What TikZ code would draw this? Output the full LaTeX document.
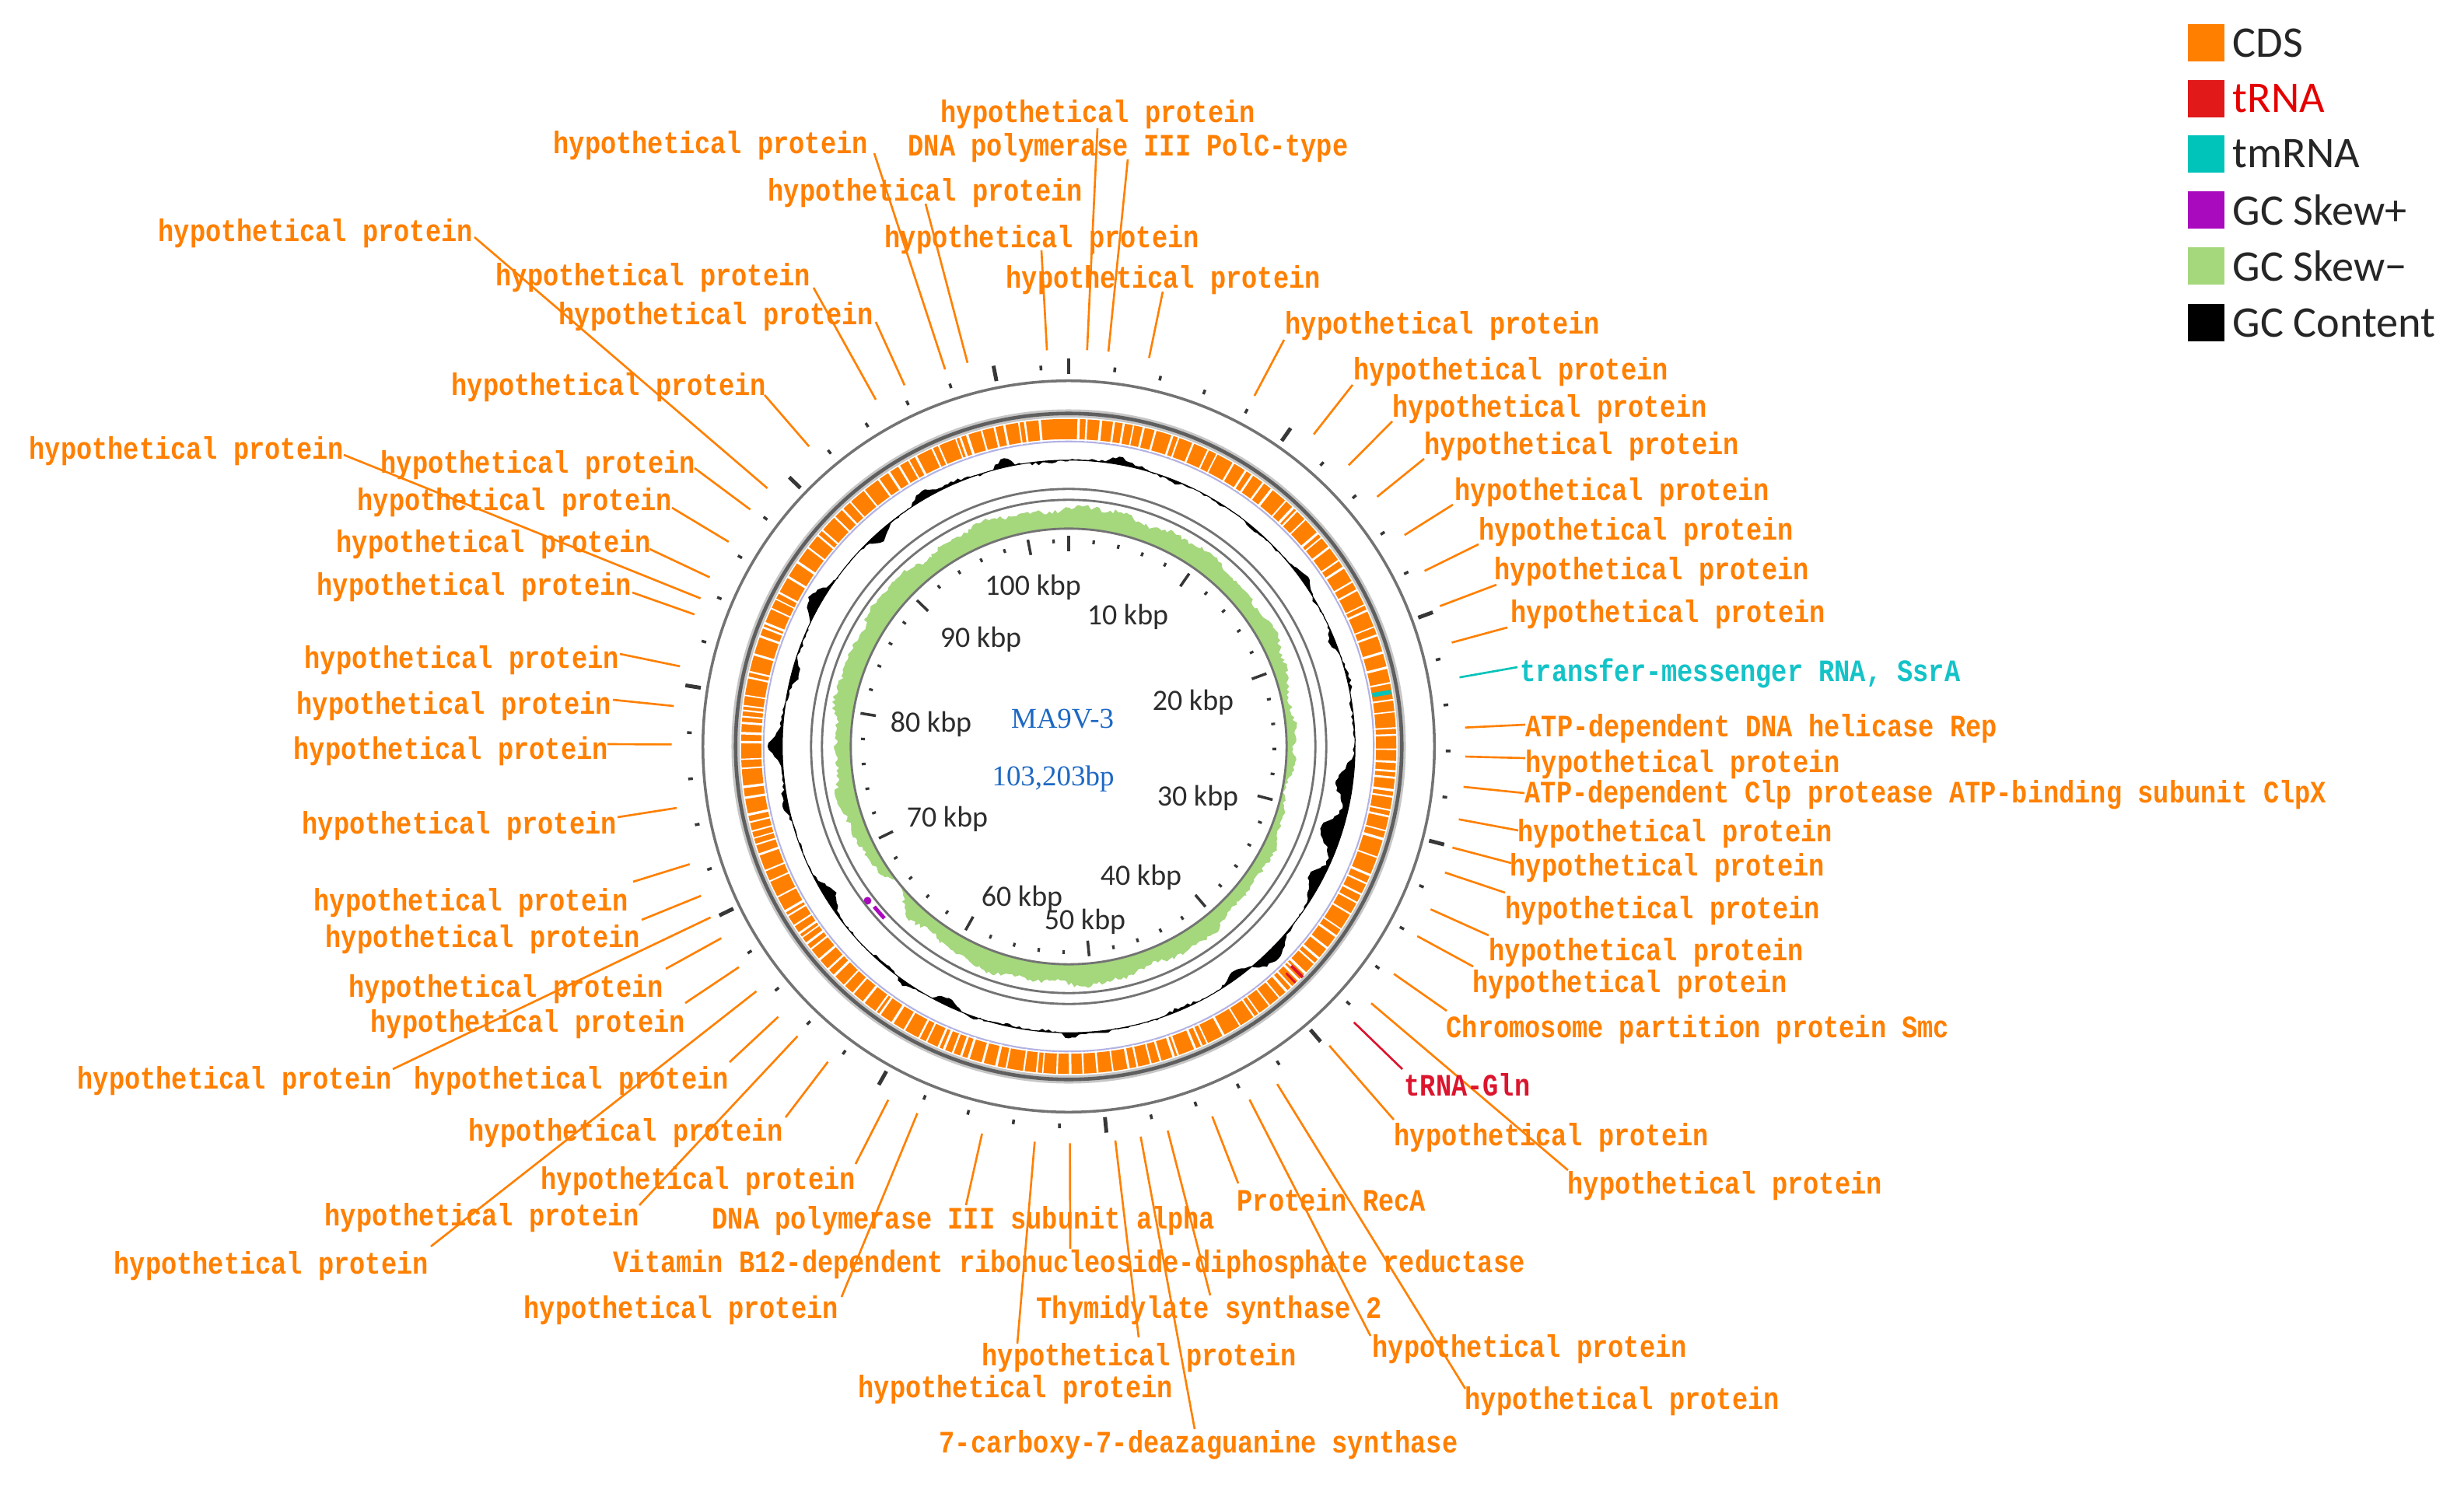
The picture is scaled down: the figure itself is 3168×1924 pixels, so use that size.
\documentclass[tikz,border=0pt]{standalone}
\usepackage{fontspec}
\usetikzlibrary{calc}
\newfontfamily\lblf{Liberation Mono}
\newfontfamily\legf{Carlito}
\newfontfamily\serf{Liberation Serif}
\definecolor{corange}{RGB}{255,128,0}
\definecolor{cred}{RGB}{220,20,45}
\definecolor{clegred}{RGB}{225,25,25}
\definecolor{ctm}{RGB}{0,195,185}
\definecolor{ctmtxt}{RGB}{20,195,200}
\definecolor{cpurple}{RGB}{170,10,190}
\definecolor{cgreen}{RGB}{165,215,125}
\definecolor{cblue}{RGB}{30,105,195}
\definecolor{cring}{RGB}{115,115,115}
\definecolor{cringd}{RGB}{95,95,95}
\definecolor{ctick}{RGB}{55,55,55}
\definecolor{ckbp}{RGB}{45,45,45}

\pgfmathdeclarefunction{bmp}{4}{%
  \begingroup
  \pgfmathparse{min(abs(#1-(#2))/(#4),4)}%
  \let\bmpu\pgfmathresult
  \pgfmathparse{(#3)*exp(-\bmpu*\bmpu)}%
  \pgfmathsmuggle\pgfmathresult
  \endgroup}
\pgfmathdeclarefunction{gcdev}{1}{%
  \begingroup
  \pgfmathsetmacro\gx{#1}%
  \pgfmathparse{2.2*(2*rnd-1)+2*sin(11*\gx)+1.5*sin(29*\gx+30)+bmp(\gx,347,12,2)+bmp(\gx,10,9,2.5)+bmp(\gx,40,-7,3)+bmp(\gx,55,10,3)+bmp(\gx,68,-8,2)+bmp(\gx,98,-20,4)+bmp(\gx,108,-28,4)+bmp(\gx,118,-15,3)+bmp(\gx,135,15,4)+bmp(\gx,143,-10,3)+bmp(\gx,180,8,2)+bmp(\gx,205,-10,3)+bmp(\gx,215,6,2)+bmp(\gx,238,-18,3)+bmp(\gx,258,10,3)+bmp(\gx,270,18,2.5)+bmp(\gx,285,-8,2)+bmp(\gx,300,14,3)+bmp(\gx,318,-8,2)+bmp(\gx,330,10,2.5)}%
  \pgfmathsmuggle\pgfmathresult
  \endgroup}
\pgfmathdeclarefunction{skw}{1}{%
  \begingroup
  \pgfmathsetmacro\gx{#1}%
  \pgfmathparse{max(0.5,20+5*cos(\gx)+3*(2*rnd-1)+3*sin(13*\gx)+2*sin(31*\gx+20)+bmp(\gx,180,10,40)+bmp(\gx,95,-13,28)+bmp(\gx,231,-22,5)+bmp(\gx,300,5,15))}%
  \pgfmathsmuggle\pgfmathresult
  \endgroup}

\tikzset{
  lbl/.style={font=\lblf\bfseries\fontsize{11.4}{12}\selectfont, text=corange, anchor=west, inner sep=0pt, xscale=0.84},
  lblr/.style={lbl, text=cred},
  lblc/.style={lbl, text=ctmtxt},
  ld/.style={draw=corange, line width=0.75pt},
  ldr/.style={draw=cred, line width=0.75pt},
  ldc/.style={draw=ctm, line width=0.75pt},
  tk/.style={draw=ctick},
  kbp/.style={font=\legf\fontsize{10.8}{12}\selectfont, text=ckbp, inner sep=0pt},
  sq/.style={minimum size=0.47cm, inner sep=0pt, draw=none},
  legt/.style={font=\legf\fontsize{16}{18}\selectfont, text=black!85, anchor=west, inner sep=0pt},
  ctr/.style={font=\serf\fontsize{10.5}{12}\selectfont, text=cblue, inner sep=0pt}
}
\newcommand\glab[6]{%
  \node[#4] (t#1) at (#2) {#6};
  \coordinate (e#1) at (#3);
  \coordinate (s#1) at ($(C)!5.1cm!(e#1)$);
  \draw[#5] (s#1) -- (e#1);}

\begin{document}
\begin{tikzpicture}[x=0.01cm, y=-0.01cm]
\useasboundingbox (0,0) rectangle (3168,1924);
\fill[white] (0,0) rectangle (3168,1924);
\coordinate (C) at (1374,960);
\pgfmathsetseed{4321}

\begin{scope}[shift={(C)}]
  % GC skew (green)
  \fill[cgreen, even odd rule] plot[domain=0:360, samples=541, variable=\a] ({\a-90}:{281+skw(\a)}) -- cycle (0,0) circle[radius=2.81cm];
  % GC skew+ (purple)
  \draw[cpurple, line width=1.4pt] plot[domain=227:230.5, samples=6, variable=\a] ({\a-90}:{324});
  \fill[cpurple] ({232.5-90}:326) circle[radius=0.05cm];
  % tick circle and track circles
  \draw[cring, line width=0.8pt] (0,0) circle[radius=2.80cm];
  \draw[cring, line width=0.8pt] (0,0) circle[radius=3.17cm];
  \draw[cring, line width=0.8pt] (0,0) circle[radius=3.31cm];
  % GC content
  \fill[black, even odd rule] plot[domain=0:360, samples=541, variable=\a] ({\a-90}:{368+gcdev(\a)}) -- cycle (0,0) circle[radius=3.68cm];
  \draw[black, line width=0.3pt] (0,0) circle[radius=3.68cm];
  % CDS track
  \draw[black!35!blue!30!white, line width=0.6pt] (0,0) circle[radius=3.92cm];
  \fill[corange, even odd rule] (0,0) circle[radius=4.21cm] (0,0) circle[radius=3.95cm];
  \gdef\cang{0}
  \foreach \i in {1,...,170}{
    \pgfmathsetmacro\nang{\cang+0.8+2.6*rnd}
    \xdef\cang{\nang}
    \pgfmathsetmacro\gw{0.45+0.5*rnd}
    \draw[white, line width=\gw pt] ({\nang-90}:393) -- ({\nang-90}:423);
  }
  % tmRNA and tRNA marks
  \draw[ctm, line width=1.6pt] ({80.4-90}:396) -- ({80.4-90}:420);
  \draw[cred, line width=1.1pt] ({134.6-90}:402) -- ({134.6-90}:423);
  \draw[cred, line width=0.8pt] ({136.2-90}:404) -- ({136.2-90}:421);
  % backbone ring and outer circle
  \draw[gray!45, line width=3pt] (0,0) circle[radius=4.28cm];
  \draw[cringd, line width=1.3pt] (0,0) circle[radius=4.28cm];
  \draw[cring, line width=1pt] (0,0) circle[radius=4.70cm];
  % ticks
  \foreach \k in {0,2,...,102}{
    \pgfmathsetmacro\ang{\k*3.488271-90}
    \pgfmathtruncatemacro\ismaj{mod(\k,10)==0 ? 1 : 0}
    \ifnum\ismaj=1
      \draw[tk, line width=1.4pt] (\ang:479) -- (\ang:499);
      \draw[tk, line width=1pt] (\ang:251) -- (\ang:271);
    \else
      \draw[tk, line width=1pt] (\ang:485) -- (\ang:491);
      \draw[tk, line width=0.9pt] (\ang:262) -- (\ang:267);
    \fi
  }
\end{scope}

% kbp labels
\node[kbp] (k100) at (1328,755) {100 kbp};
\node[kbp] (k10) at (1450,793) {10 kbp};
\node[kbp] (k90) at (1261,822) {90 kbp};
\node[kbp] (k20) at (1534,903) {20 kbp};
\node[kbp] (k80) at (1197,931) {80 kbp};
\node[kbp] (k30) at (1540,1026) {30 kbp};
\node[kbp] (k70) at (1218,1053) {70 kbp};
\node[kbp] (k40) at (1467,1128) {40 kbp};
\node[kbp] (k60) at (1314,1155) {60 kbp};
\node[kbp] (k50) at (1395,1185) {50 kbp};

% centre
\node[ctr] (name) at (1366,925) {MA9V-3};
\node[ctr] (len) at (1354,1002) {103,203bp};

% feature labels
\glab{1}{1209,147}{1411,165}{lbl}{ld}{hypothetical protein}
\glab{2}{1167,190}{1450,205}{lbl}{ld}{DNA polymerase III PolC-type}
\glab{3}{711,187}{1124,197}{lbl}{ld}{hypothetical protein}
\glab{4}{987,248}{1190,262}{lbl}{ld}{hypothetical protein}
\glab{5}{1137,308}{1339,322}{lbl}{ld}{hypothetical protein}
\glab{6}{1293,360}{1495,375}{lbl}{ld}{hypothetical protein}
\glab{7}{637,357}{1046,370}{lbl}{ld}{hypothetical protein}
\glab{8}{718,407}{1126,414}{lbl}{ld}{hypothetical protein}
\glab{9}{203,300}{610,305}{lbl}{ld}{hypothetical protein}
\glab{10}{580,498}{983,508}{lbl}{ld}{hypothetical protein}
\glab{11}{37,580}{442,585}{lbl}{ld}{hypothetical protein}
\glab{12}{489,598}{893,602}{lbl}{ld}{hypothetical protein}
\glab{13}{459,646}{864,653}{lbl}{ld}{hypothetical protein}
\glab{14}{432,700}{835,706}{lbl}{ld}{hypothetical protein}
\glab{15}{407,755}{813,762}{lbl}{ld}{hypothetical protein}
\glab{16}{391,849}{797,841}{lbl}{ld}{hypothetical protein}
\glab{17}{381,908}{788,900}{lbl}{ld}{hypothetical protein}
\glab{18}{377,966}{781,957}{lbl}{ld}{hypothetical protein}
\glab{19}{388,1062}{794,1051}{lbl}{ld}{hypothetical protein}
\glab{20}{403,1161}{814,1134}{lbl}{ld}{hypothetical protein}
\glab{21}{418,1208}{825,1183}{lbl}{ld}{hypothetical protein}
\glab{22}{448,1272}{856,1246}{lbl}{ld}{hypothetical protein}
\glab{23}{476,1317}{881,1290}{lbl}{ld}{hypothetical protein}
\glab{24}{99,1390}{505,1375}{lbl}{ld}{hypothetical protein}
\glab{25}{532,1390}{938,1366}{lbl}{ld}{hypothetical protein}
\glab{26}{602,1457}{1010,1437}{lbl}{ld}{hypothetical protein}
\glab{27}{695,1519}{1100,1497}{lbl}{ld}{hypothetical protein}
\glab{28}{417,1566}{822,1550}{lbl}{ld}{hypothetical protein}
\glab{29}{146,1628}{554,1603}{lbl}{ld}{hypothetical protein}
\glab{30}{915,1570}{1242,1550}{lbl}{ld}{DNA polymerase III subunit alpha}
\glab{31}{788,1626}{1376,1606}{lbl}{ld}{Vitamin B12-dependent ribonucleoside-diphosphate reductase}
\glab{32}{673,1685}{1082,1668}{lbl}{ld}{hypothetical protein}
\glab{33}{1332,1685}{1556,1666}{lbl}{ld}{Thymidylate synthase 2}
\glab{34}{1262,1746}{1464,1720}{lbl}{ld}{hypothetical protein}
\coordinate (e34b) at (1308,1728);
\coordinate (s34b) at ($(C)!5.1cm!(e34b)$);
\draw[ld] (s34b) -- (e34b);
\node[lbl] (t35) at (1103,1787) {hypothetical protein};
\glab{36}{1207,1858}{1536,1838}{lbl}{ld}{7-carboxy-7-deazaguanine synthase}
\glab{37}{1590,1543}{1592,1522}{lbl}{ld}{Protein RecA}
\glab{38}{1764,1735}{1762,1718}{lbl}{ld}{hypothetical protein}
\glab{39}{1883,1802}{1884,1786}{lbl}{ld}{hypothetical protein}
\glab{40}{1792,1463}{1792,1440}{lbl}{ld}{hypothetical protein}
\glab{41}{2015,1525}{2016,1505}{lbl}{ld}{hypothetical protein}
\glab{42}{1805,1395}{1803,1375}{lblr}{ldr}{tRNA-Gln}
\glab{43}{1859,1324}{1860,1300}{lbl}{ld}{Chromosome partition protein Smc}
\glab{44}{1893,1266}{1894,1243}{lbl}{ld}{hypothetical protein}
\glab{45}{1914,1225}{1914,1203}{lbl}{ld}{hypothetical protein}
\glab{46}{1935,1171}{1935,1148}{lbl}{ld}{hypothetical protein}
\glab{47}{1941,1116}{1943,1110}{lbl}{ld}{hypothetical protein}
\glab{48}{1951,1072}{1952,1068}{lbl}{ld}{hypothetical protein}
\glab{49}{1960,1022}{1960,1020}{lbl}{ld}{ATP-dependent Clp protease ATP-binding subunit ClpX}
\glab{50}{1961,983}{1961,975}{lbl}{ld}{hypothetical protein}
\glab{51}{1961,937}{1961,932}{lbl}{ld}{ATP-dependent DNA helicase Rep}
\glab{52}{1954,866}{1951,858}{lblc}{ldc}{transfer-messenger RNA, SsrA}
\glab{53}{1942,790}{1938,807}{lbl}{ld}{hypothetical protein}
\glab{54}{1921,735}{1924,752}{lbl}{ld}{hypothetical protein}
\glab{55}{1901,684}{1901,700}{lbl}{ld}{hypothetical protein}
\glab{56}{1870,633}{1868,649}{lbl}{ld}{hypothetical protein}
\glab{57}{1831,574}{1831,590}{lbl}{ld}{hypothetical protein}
\glab{58}{1790,526}{1790,542}{lbl}{ld}{hypothetical protein}
\glab{59}{1740,478}{1739,495}{lbl}{ld}{hypothetical protein}
\glab{60}{1652,419}{1651,437}{lbl}{ld}{hypothetical protein}

% legend
\node[sq, fill=corange] (q1) at (2836,55) {};
\node[legt] (q1t) at (2870,55) {CDS};
\node[sq, fill=clegred] (q2) at (2836,127) {};
\node[legt, text=red!90!black] (q2t) at (2870,127) {tRNA};
\node[sq, fill=ctm] (q3) at (2836,198) {};
\node[legt] (q3t) at (2870,198) {tmRNA};
\node[sq, fill=cpurple] (q4) at (2836,270) {};
\node[legt] (q4t) at (2870,270) {GC Skew+};
\node[sq, fill=cgreen] (q5) at (2836,342) {};
\node[legt] (q5t) at (2870,342) {GC Skew−};
\node[sq, fill=black] (q6) at (2836,415) {};
\node[legt] (q6t) at (2870,415) {GC Content};
\end{tikzpicture}
\end{document}
